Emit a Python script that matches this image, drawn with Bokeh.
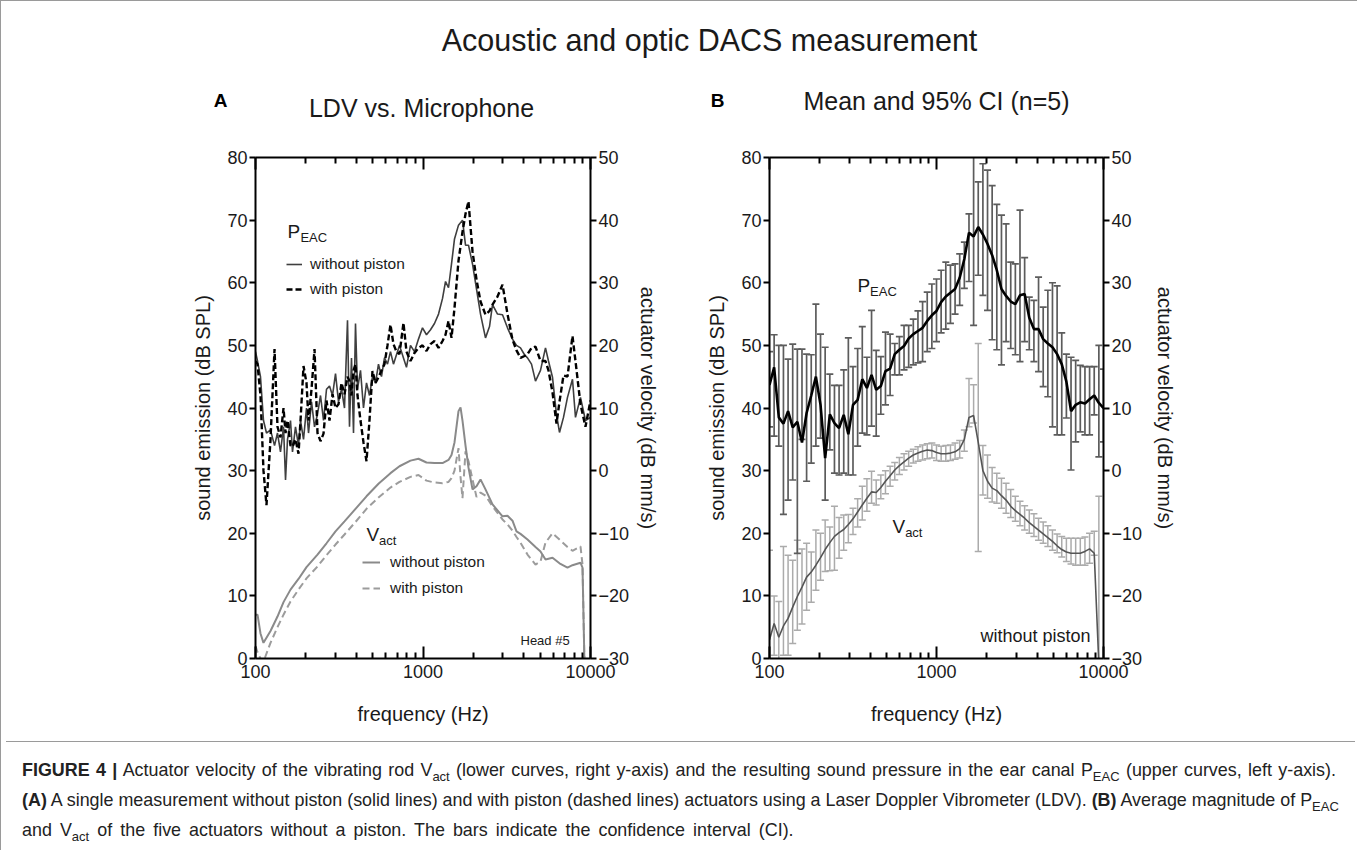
from bokeh.plotting import figure
from bokeh.models import (Range1d, LinearAxis, LogAxis, FixedTicker, NumeralTickFormatter,
                          Legend, LegendItem, Label, Div)
from bokeh.layouts import column, row
from bokeh.embed import file_html
from bokeh.resources import INLINE
from bokeh.core.properties import value

FONT = "Liberation Sans"
INK = "#1a1a1a"

# ---------------- ticks ----------------
x_major_ticks = [100, 1000, 10000]
x_minor_ticks = [200, 300, 400, 500, 600, 700, 800, 900,
                 2000, 3000, 4000, 5000, 6000, 7000, 8000, 9000]
spl_ticks = [0, 10, 20, 30, 40, 50, 60, 70, 80]
vel_ticks = [-30, -20, -10, 0, 10, 20, 30, 40, 50]

# ---------------- panel A: single measurement ----------------
freq_a_p = [100, 102.8, 107.1, 111.6, 116.3, 122.9, 129.9, 135.3, 141.0, 147.0,
            151.1, 155.3, 161.8, 166.3, 173.3, 180.6, 185.7, 193.5, 201.6, 207.3,
            216.0, 225.1, 234.5, 244.4, 254.7, 265.4, 276.6, 288.3, 300.4, 313.0,
            326.2, 339.9, 354.2, 364.1, 374.2, 384.7, 395.4, 406.4, 423.5, 441.3,
            459.9, 479.2, 499.4, 520.4, 542.3, 565.1, 588.9, 613.7, 639.5, 666.4,
            694.5, 723.7, 764.6, 796.8, 841.9, 889.5, 939.8, 993.1, 1049, 1109,
            1171, 1238, 1308, 1363, 1420, 1480, 1542, 1629, 1721, 1794,
            1869, 1975, 2087, 2205, 2361, 2495, 2600, 2785, 2983, 3195,
            3422, 3616, 3820, 4036, 4206, 4444, 4695, 5029, 5386, 5613,
            5931, 6266, 6529, 6898, 7288, 7806, 8135, 8713, 9333, 10000]

peac_a_without = [49, 47.5, 45, 38, 36, 36.5, 34, 36, 33, 37,
                  28.5, 35, 38, 33, 37, 34, 38, 35, 40, 36,
                  41, 37, 39, 42, 38, 43, 43.5, 42, 45.5, 41,
                  43, 40, 54, 37, 48, 36, 53.5, 43, 46, 40,
                  44, 42, 45, 44, 47, 45, 48, 47, 49, 47,
                  48.5, 50, 48, 46.5, 50, 49, 51, 52.8, 51.7, 52.5,
                  53.5, 55, 57.5, 60.2, 59.2, 63, 67, 69.2, 70, 66,
                  66, 63, 59, 55, 51.2, 53, 56.5, 55, 54.9, 52.8,
                  51, 50, 49.6, 48.5, 48, 47, 44.3, 46, 49.6, 47.5,
                  44.9, 39, 36.1, 38.5, 41.7, 44.6, 38.5, 41.7, 38, 38.5]

peac_a_with = [47.5, 47, 42, 30, 24.5, 35, 49.4, 37, 35.3, 40,
               36, 38, 34, 33.8, 35, 32.7, 38, 46.7, 44, 38,
               43, 49.4, 36, 34.7, 35.9, 41.2, 38, 42.2, 40, 40.6,
               44, 42.2, 45, 44.3, 42, 46, 47, 42, 38, 34.5,
               31.5, 38, 45.9, 44, 44.9, 46, 47, 50, 53.3, 50.2,
               49, 48.6, 53.6, 49, 47.5, 48.8, 49.6, 50, 49.1, 50.2,
               50.7, 49.6, 50.7, 51.7, 53.9, 51.2, 56, 63.5, 68.1, 71,
               73, 65, 60.5, 57, 54.9, 55.5, 56.5, 57.8, 59.7, 55,
               50.9, 49.2, 48, 48.3, 48.6, 49.6, 49.8, 47.5, 47.5, 46,
               42.5, 37.5, 41, 45.2, 45, 51.5, 47.5, 40.6, 37, 41.2]

freq_a_v = [100, 102.8, 107.1, 111.6, 122.9, 135.3, 147.0, 161.8, 180.6, 201.6,
            234.5, 265.4, 300.4, 339.9, 395.4, 459.9, 542.3, 639.5, 723.7, 841.9,
            939.8, 1049, 1171, 1308, 1420, 1480, 1542, 1629, 1675, 1721,
            1794, 1869, 1975, 2087, 2205, 2361, 2600, 2983, 3195, 3422,
            3616, 3820, 4206, 4695, 5029, 5386, 5931, 6529, 7288, 7806,
            8713, 8960, 9207]

vact_a_without = [-23, -23, -26, -27.5, -25.6, -23.3, -21, -19, -17.3, -15.4,
                  -13.4, -11.6, -9.7, -8.1, -6.1, -4.1, -2.1, -0.4, 0.7, 1.6,
                  1.9, 1.3, 1.2, 1.2, 1.7, 2.5, 4.5, 9.5, 10.1, 8,
                  4, 0.5, -3, -2.5, -1.4, -3, -5.4, -7.3, -7.2, -8,
                  -9.7, -10.1, -11, -12.2, -12.9, -14.2, -13.9, -14.8, -15.5, -15.1,
                  -14.7, -15.5, -31]

vact_a_with = [-28, -29, -30, -30.5, -27.5, -25, -23, -20.9, -19, -17.2,
               -15.3, -13.5, -11.8, -10.2, -8.2, -6.1, -4.3, -2.7, -1.8, -1,
               -0.7, -1.6, -1.9, -2, -1.8, -1.2, 0, 3.6, -1, -4.4,
               3.1, 1.5, -1.4, -4.2, -3.5, -4, -5.7, -7.8, -8.6, -9.6,
               -10.6, -11.5, -13.4, -15, -14.5, -11.5, -10, -11, -12.2, -12.8,
               -12.1, -15, -31]

# ---------------- panel B: mean and 95% CI (n=5) ----------------
freq_b = [100, 106.6, 113.7, 121.2, 129.2, 137.7, 146.8, 156.5, 166.8, 177.8,
          189.6, 202.1, 215.4, 229.7, 244.9, 261.0, 278.3, 296.6, 316.2, 337.1,
          359.4, 383.1, 408.4, 435.4, 464.2, 494.8, 527.5, 562.3, 599.5, 639.1,
          681.3, 726.3, 774.3, 825.4, 879.9, 938.1, 1000, 1066, 1137, 1212,
          1292, 1377, 1468, 1565, 1668, 1778, 1896, 2021, 2154, 2297,
          2449, 2610, 2783, 2966, 3162, 3371, 3594, 3831, 4084, 4354,
          4642, 4948, 5275, 5623, 5995, 6391, 6813, 7263, 7743, 8254,
          8799, 9381, 10000]

peac_b_mean = [43.7, 46.5, 38.5, 37.5, 39.5, 36.9, 37.8, 34.5, 39.2, 42.0,
               45.0, 40.5, 32.0, 39.0, 37.6, 36.8, 38.9, 35.8, 40.5, 41.3,
               44.6, 43.2, 45.3, 42.9, 43.5, 45.9, 46.3, 48.6, 49.3, 49.9,
               51.1, 51.8, 52.3, 52.8, 53.9, 54.8, 55.5, 56.9, 57.8, 58.4,
               59.0, 60.8, 63.8, 68.0, 67.4, 68.9, 67.7, 66.2, 64.4, 62.0,
               59.0, 57.9, 57.0, 56.6, 58.0, 58.2, 54.4, 52.6, 52.6, 51.0,
               50.3, 49.7, 48.6, 47.0, 44.2, 39.5, 40.5, 40.9, 40.7, 41.4,
               42.0, 40.8, 40.0]

peac_b_hi = [49, 51.7, 50, 50, 47.8, 50.2, 49.4, 49.4, 48.6, 48.5,
             56.6, 51.8, 49.7, 45.4, 43.6, 43.6, 46.1, 51.2, 46.6, 49.5,
             53, 48.1, 55.6, 49.2, 48.2, 52.1, 51.8, 50.3, 51.4, 53.2,
             53.2, 54.2, 55.5, 57, 58.5, 59.8, 60.6, 62, 63.3, 62.8,
             63, 64.6, 66.5, 71, 80.5, 76.1, 79, 78, 75.5, 72.5,
             70.8, 69.4, 63.3, 63, 71.6, 64, 57.7, 57.2, 60.9, 56.1,
             58.8, 60, 59.5, 52, 48.6, 48.1, 47.6, 46.8, 46.6, 46.6,
             46.6, 50, 46.2]

peac_b_lo = [37, 35.5, 33.9, 23, 25.3, 28.5, 16.8, 35, 28.3, 31.2,
             33.9, 35.2, 25.3, 33.3, 29.6, 29.3, 29.6, 29.3, 29.3, 33.9,
             36, 35.7, 37.1, 35.5, 39, 40.5, 42, 45.3, 45.3, 46.1,
             46.5, 46.9, 47.2, 47.4, 49, 49.5, 50.6, 52, 52.6, 53.5,
             55, 56.4, 59.1, 60.2, 53.2, 61.2, 58, 55.6, 50.9, 49.3,
             46.9, 50.6, 49.5, 48.5, 47.4, 50.6, 49.3, 47.4, 45.8, 43.4,
             41.8, 37, 35.7, 35.7, 38.4, 30.1, 34.6, 36.2, 35.7, 35.7,
             38.9, 32.2, 34.6]

vact_b_mean = [-27.0, -24.4, -26.6, -24.8, -23.6, -21.8, -20.1, -18.6, -17.0, -16.2,
               -15.1, -13.9, -12.6, -11.5, -10.5, -9.9, -9.4, -8.6, -7.7, -6.6,
               -5.5, -4.4, -3.4, -3.5, -2.7, -1.7, -0.8, 0.1, 0.8, 1.4,
               2.0, 2.5, 2.8, 3.1, 3.3, 3.2, 2.9, 2.7, 2.7, 2.8,
               3.0, 3.5, 5.0, 8.5, 8.8, 4.5, 0.0, -1.7, -2.8, -3.2,
               -4.0, -4.7, -5.7, -6.4, -7.0, -7.6, -8.3, -8.9, -9.5, -10.1,
               -10.7, -11.3, -12.0, -12.6, -13.0, -13.2, -13.2, -13.2, -12.9, -12.5,
               -13.2, -31.0]

vact_b_hi = [-12.7, -20, -20.9, -12.1, -13.5, -14.3, -11.1, -12.5, -11.6, -13,
             -9.5, -10, -7.9, -9, -5.7, -7.5, -7.1, -7, -6, -4.5,
             -2.5, -1.3, -0.1, -1.5, -0.7, 0, 0.7, 1.3, 2.1, 2.7,
             3.1, 3.4, 3.8, 4.1, 4.3, 4.4, 4.1, 3.9, 4.0, 4.1,
             4.4, 4.8, 6.5, 14.7, 13.7, 20.3, 4.0, 2.5, 0.5, -0.4,
             -1.2, -2, -3, -4.1, -4.9, -5.6, -6.3, -6.9, -7.6, -8.2,
             -8.8, -9.5, -10.1, -10.5, -10.8, -10.8, -10.8, -10.8, -10.6, -10,
             -9.7, -4.1]

vact_b_lo = [-31, -29.5, -31, -29.5, -29.5, -27.6, -25.5, -24.5, -22.3, -21,
             -19.1, -17.5, -16.1, -16, -15.9, -14, -12.7, -11.5, -10.2, -9,
             -7.9, -6.5, -5.2, -5.5, -4.5, -3.7, -2.5, -1.5, -0.6, 0.1,
             0.7, 1.2, 1.5, 1.7, 1.9, 2.0, 1.6, 1.5, 1.5, 1.6,
             1.8, 2.0, 3.1, 7.0, 7.6, -12.9, -3.9, -4.4, -5, -5.2,
             -6, -6.8, -7.5, -8.1, -8.8, -9.5, -10, -10.5, -11.1, -11.6,
             -12.1, -12.7, -13.1, -13.8, -14.5, -14.9, -15.1, -15.1, -15.1, -14.8,
             -13.5, -31]

freq_b_v = freq_b[:len(vact_b_mean)]

# ---------------- text ----------------
title_text = "Acoustic and optic DACS measurement"
panel_a_title = "LDV vs. Microphone"
panel_b_title = "Mean and 95% CI (n=5)"
x_label = "frequency (Hz)"
left_label = "sound emission (dB SPL)"
right_label = "actuator velocity (dB mm/s)"


def style_axis(ax, tin, tout, min_in=0, min_out=0):
    ax.axis_line_width = 2
    ax.axis_line_color = "black"
    ax.major_tick_line_width = 2
    ax.major_tick_line_color = "black"
    ax.major_tick_in = tin
    ax.major_tick_out = tout
    ax.minor_tick_in = min_in
    ax.minor_tick_out = min_out
    ax.minor_tick_line_width = 2
    ax.minor_tick_line_color = "black" if (min_in or min_out) else None
    ax.major_label_text_font = FONT
    ax.major_label_text_font_size = "18px"
    ax.major_label_text_color = INK
    ax.major_label_standoff = 2
    ax.axis_label_text_font = FONT
    ax.axis_label_text_font_size = "20px"
    ax.axis_label_text_font_style = "normal"
    ax.axis_label_text_color = INK


def make_panel(width, height, mb_left, mb_right, mb_top, mb_bottom, right_standoff):
    p = figure(width=width, height=height, x_axis_type="log",
               x_range=Range1d(100, 10000), y_range=Range1d(0, 80),
               output_backend="svg", toolbar_location=None,
               min_border_left=mb_left, min_border_right=mb_right,
               min_border_top=mb_top, min_border_bottom=mb_bottom)
    p.extra_y_ranges = {"vel": Range1d(-30, 50)}
    p.xgrid.visible = False
    p.ygrid.visible = False
    p.outline_line_color = None
    p.background_fill_color = "white"
    p.border_fill_color = "white"

    xb = p.xaxis[0]
    xb.ticker = FixedTicker(ticks=x_major_ticks, minor_ticks=x_minor_ticks)
    xb.formatter = NumeralTickFormatter(format="0")
    style_axis(xb, 12, 0, 6, 0)
    xb.major_label_standoff = 6
    xb.axis_label = x_label
    xb.axis_label_standoff = 22

    top = LogAxis(ticker=FixedTicker(ticks=x_major_ticks, minor_ticks=x_minor_ticks),
                  formatter=NumeralTickFormatter(format="0"))
    style_axis(top, 12, 0, 6, 0)
    top.major_label_text_font_size = "8px"
    top.major_label_text_alpha = 0
    top.major_label_standoff = 0
    p.add_layout(top, "above")

    yl = p.yaxis[0]
    yl.ticker = FixedTicker(ticks=spl_ticks)
    style_axis(yl, 0, 6)
    yl.axis_label = left_label
    yl.axis_label_standoff = 10

    yr = LinearAxis(y_range_name="vel", ticker=FixedTicker(ticks=vel_ticks))
    style_axis(yr, 0, 6)
    yr.axis_label = right_label
    yr.axis_label_standoff = right_standoff
    p.add_layout(yr, "right")
    return p


def add_label(p, x, y, text, size, color=INK):
    p.add_layout(Label(x=x, y=y, text=text, text_font=FONT, text_font_size=size,
                       text_color=color, text_align="left", text_baseline="middle"))


# ---------------- header (title + panel headings) ----------------
hdr = figure(width=1349, height=129, x_range=Range1d(0, 1349), y_range=Range1d(129, 0),
             output_backend="svg", toolbar_location=None,
             x_axis_location=None, y_axis_location=None, min_border=0)
hdr.outline_line_color = None
hdr.xgrid.visible = False
hdr.ygrid.visible = False
hdr.text(x=[708], y=[38], text=[title_text], text_font=value(FONT), text_font_size="30.5px",
         text_align="center", text_baseline="middle", text_color=INK)
hdr.text(x=[219, 716], y=[99, 99], text=["A", "B"], text_font=value(FONT), text_font_size="19px",
         text_font_style="bold", text_align="center", text_baseline="middle", text_color="black")
hdr.text(x=[420, 935], y=[106, 99], text=[panel_a_title, panel_b_title], text_font=value(FONT),
         text_font_size="25px", text_align="center", text_baseline="middle", text_color=INK)

# ---------------- panel A ----------------
pA = make_panel(677, 606, 254, 88, 27, 78, 5)
rVw = pA.line(freq_a_v, vact_a_with, y_range_name="vel", line_color="#9c9c9c", line_width=2,
              line_dash="7 4")
rVo = pA.line(freq_a_v, vact_a_without, y_range_name="vel", line_color="#8a8a8a", line_width=2)
rPo = pA.line(freq_a_p, peac_a_without, line_color="#3f3f3f", line_width=1.6)
rPw = pA.line(freq_a_p, peac_a_with, line_color="black", line_width=2.4, line_dash="6 3")

legP = Legend(items=[LegendItem(label="without piston", renderers=[rPo]),
                     LegendItem(label="with piston", renderers=[rPw])],
              location=(31, 359), padding=0, margin=0, spacing=5,
              glyph_width=16, glyph_height=20, label_height=20, label_standoff=8,
              label_text_font=FONT, label_text_font_size="15.5px", label_text_color=INK,
              border_line_color=None, background_fill_alpha=0)
legV = Legend(items=[LegendItem(label="without piston", renderers=[rVo]),
                     LegendItem(label="with piston", renderers=[rVw])],
              location=(107, 60), padding=0, margin=0, spacing=6,
              glyph_width=18, glyph_height=20, label_height=20, label_standoff=10,
              label_text_font=FONT, label_text_font_size="15.5px", label_text_color=INK,
              border_line_color=None, background_fill_alpha=0)
pA.add_layout(legP)
pA.add_layout(legV)

add_label(pA, 155.2, 68.2, "P", "19px")
add_label(pA, 185.5, 67.3, "EAC", "13px")
add_label(pA, 459.9, 19.8, "V", "19px")
add_label(pA, 547, 18.85, "act", "13px")
add_label(pA, 3820, 2.9, "Head #5", "13px")

# ---------------- panel B ----------------
pB = make_panel(672, 606, 91, 247, 27, 78, 9)
pB.segment(x0=freq_b_v, y0=vact_b_lo, x1=freq_b_v, y1=vact_b_hi, y_range_name="vel",
           line_color="#ababab", line_width=1.5)
pB.scatter(freq_b_v, vact_b_hi, marker="dash", size=7, y_range_name="vel",
           line_color="#ababab", line_width=1.5)
pB.scatter(freq_b_v, vact_b_lo, marker="dash", size=7, y_range_name="vel",
           line_color="#ababab", line_width=1.5)
pB.segment(x0=freq_b, y0=peac_b_lo, x1=freq_b, y1=peac_b_hi,
           line_color="#5c5c5c", line_width=1.7)
pB.scatter(freq_b, peac_b_hi, marker="dash", size=7, line_color="#5c5c5c", line_width=1.7)
pB.scatter(freq_b, peac_b_lo, marker="dash", size=7, line_color="#5c5c5c", line_width=1.7)
pB.line(freq_b_v, vact_b_mean, y_range_name="vel", line_color="#555555", line_width=1.6)
pB.line(freq_b, peac_b_mean, line_color="black", line_width=2.6)

add_label(pB, 336.7, 59.6, "P", "19px")
add_label(pB, 400, 58.6, "EAC", "13px")
add_label(pB, 545.5, 21.1, "V", "19px")
add_label(pB, 649, 20.1, "act", "13px")
add_label(pB, 1835, 3.67, "without piston", "18px")

# ---------------- caption ----------------
SUB = '<span style="font-size:13px;position:relative;top:5px">{}</span>'
cap_lines = [
    '<span style="word-spacing:1.4px"><b>FIGURE 4 |</b> Actuator velocity of the vibrating rod V'
    + SUB.format("act")
    + " (lower curves, right y-axis) and the resulting sound pressure in the ear canal P"
    + SUB.format("EAC") + " (upper curves, left y-axis).</span>",
    "<b>(A)</b> A single measurement without piston (solid lines) and with piston (dashed lines) "
    "actuators using a Laser Doppler Vibrometer (LDV). <b>(B)</b> Average magnitude of P"
    + SUB.format("EAC"),
    '<span style="word-spacing:3.1px">and V' + SUB.format("act")
    + " of the five actuators without a piston. "
    "The bars indicate the confidence interval (CI).</span>",
]
cap_html = ('<div style="width:1349px;height:112px;box-sizing:border-box;border-top:1px solid #9a9a9a;'
            'padding:14px 0 0 16px;font-family:\'Liberation Sans\';font-size:17.9px;line-height:28.2px;'
            'color:#222;white-space:nowrap">' + "<br>".join(cap_lines) + "</div>")
cap = Div(text=cap_html, width=1349, height=112)

layout = column(hdr, row(pA, pB), cap, styles={"border": "1px solid #9a9a9a"})

open("out.html", "w").write(file_html(layout, INLINE))
